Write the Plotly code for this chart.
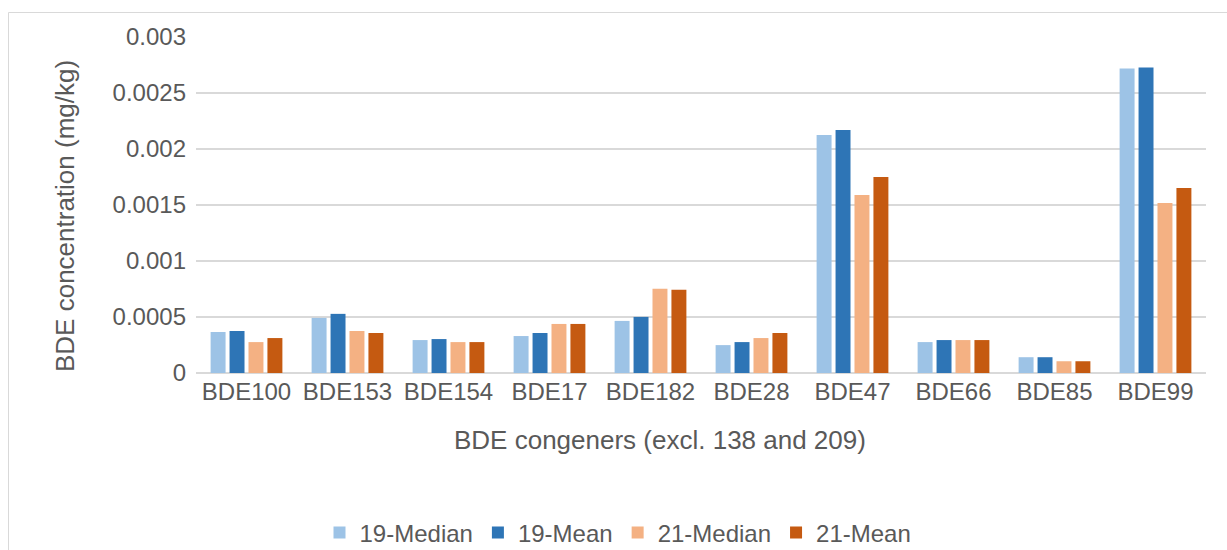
import plotly.graph_objects as go

# BDE congeners on the category axis
congeners = ["BDE100", "BDE153", "BDE154", "BDE17", "BDE182",
             "BDE28", "BDE47", "BDE66", "BDE85", "BDE99"]

# Concentrations in mg/kg
median_19 = [0.000366, 0.000492, 0.000294, 0.000330, 0.000465,
             0.000249, 0.002125, 0.000276, 0.000141, 0.002718]
mean_19 = [0.000375, 0.000528, 0.000303, 0.000357, 0.000501,
           0.000276, 0.002170, 0.000294, 0.000141, 0.002727]
median_21 = [0.000276, 0.000375, 0.000276, 0.000438, 0.000753,
             0.000312, 0.001590, 0.000294, 0.000105, 0.001518]
mean_21 = [0.000312, 0.000357, 0.000276, 0.000438, 0.000744,
           0.000357, 0.001750, 0.000294, 0.000105, 0.001652]

y_ticks = [0, 0.0005, 0.001, 0.0015, 0.002, 0.0025, 0.003]
y_tick_text = ["0", "0.0005", "0.001", "0.0015", "0.002", "0.0025", "0.003"]

series = [
    ("19-Median", median_19, "#9DC3E6"),
    ("19-Mean", mean_19, "#2E75B6"),
    ("21-Median", median_21, "#F4B183"),
    ("21-Mean", mean_21, "#C55A11"),
]

FONT = "Liberation Sans, Arial, sans-serif"
TEXT = "#595959"
GRID = "#D9D9D9"

W, H = 1227, 550
L, R, T, B = 196, 21, 37, 177
pw, ph = W - L - R, H - T - B


def px_x(x):
    return (x - L) / pw


def px_y(y):
    return (H - B - y) / ph


fig = go.Figure()
for name, vals, color in series:
    fig.add_trace(go.Bar(name=name, x=congeners, y=vals,
                         marker=dict(color=color, line=dict(width=0))))

fig.update_layout(
    width=W, height=H,
    margin=dict(l=L, r=R, t=T, b=B, autoexpand=False),
    paper_bgcolor="white", plot_bgcolor="white",
    barmode="group", bargap=0.25, bargroupgap=0.21,
    font=dict(family=FONT, size=24, color=TEXT),
    showlegend=True,
    legend=dict(orientation="h", x=px_x(618), xanchor="center",
                y=px_y(533), yanchor="middle",
                font=dict(size=24, color=TEXT),
                itemwidth=30, tracegroupgap=0,
                bgcolor="rgba(0,0,0,0)"),
    xaxis=dict(showgrid=False, showline=False, ticks="",
               tickfont=dict(size=24, color=TEXT), ticklabelstandoff=2),
    yaxis=dict(range=[0, 0.003], tickvals=y_ticks, ticktext=y_tick_text,
               showgrid=True, gridcolor=GRID, gridwidth=1.5,
               zeroline=True, zerolinecolor=GRID, zerolinewidth=1.5,
               showline=False, ticks="", ticklabelstandoff=9,
               tickfont=dict(size=24, color=TEXT)),
    shapes=[dict(type="rect", xref="paper", yref="paper",
                 x0=px_x(8.5), x1=px_x(1240), y0=px_y(600), y1=px_y(12.5),
                 line=dict(color=GRID, width=1), fillcolor="rgba(0,0,0,0)",
                 layer="below")],
    annotations=[
        dict(text="BDE concentration (mg/kg)", xref="paper", yref="paper",
             x=px_x(65), y=px_y(216), xanchor="center", yanchor="middle",
             textangle=-90, showarrow=False,
             font=dict(size=26, color=TEXT)),
        dict(text="BDE congeners (excl. 138 and 209)", xref="paper",
             yref="paper", x=px_x(660), y=px_y(440), xanchor="center",
             yanchor="middle", showarrow=False,
             font=dict(size=26, color=TEXT)),
    ],
)

fig.write_html("out.html")
